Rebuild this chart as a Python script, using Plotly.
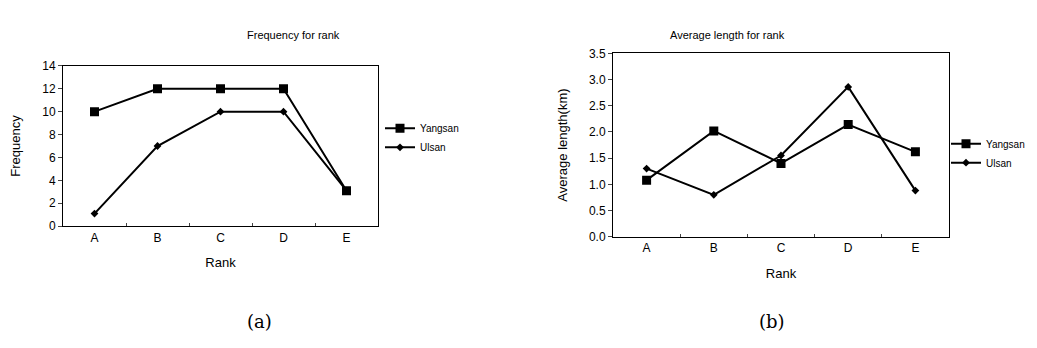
import plotly.graph_objects as go

ranks = ["A", "B", "C", "D", "E"]
freq_yangsan = [10, 12, 12, 12, 3.1]
freq_ulsan = [1.1, 7, 10, 10, 3.1]
len_yangsan = [1.08, 2.02, 1.40, 2.14, 1.62]
len_ulsan = [1.30, 0.80, 1.55, 2.86, 0.88]

W, H = 1037, 348
def px(x): return x / W
def py(y): return 1 - y / H

FONT = "Liberation Sans, Arial, sans-serif"
fig = go.Figure()

def add(x, y, name, sym, size, xa, ya, leg, show=True):
    fig.add_trace(go.Scatter(
        x=x, y=y, name=name, mode="lines+markers",
        line=dict(color="black", width=2),
        marker=dict(symbol=sym, size=size, color="black"),
        xaxis=xa, yaxis=ya, legend=leg, showlegend=show))

add(ranks, freq_yangsan, "Yangsan", "square", 9, "x", "y", "legend")
add(ranks, freq_ulsan, "Ulsan", "diamond", 6, "x", "y", "legend")
add(ranks, len_yangsan, "Yangsan", "square", 9, "x2", "y2", "legend2")
add(ranks, len_ulsan, "Ulsan", "diamond", 6, "x2", "y2", "legend2")

axis_common = dict(showline=True, linecolor="black", linewidth=1, mirror=True,
                   showgrid=False, zeroline=False,
                   tickfont=dict(family=FONT, size=12, color="black"))

fig.update_layout(
    width=W, height=H, margin=dict(l=0, r=0, t=0, b=0),
    paper_bgcolor="white", plot_bgcolor="white",
    font=dict(family=FONT, color="black"),
    xaxis=dict(domain=[px(55), px(370)], anchor="y", type="category",
               range=[-0.5, 4.5], ticks="inside", ticklen=3, tickson="boundaries",
               title=dict(text="Rank", font=dict(size=13), standoff=14), **axis_common),
    yaxis=dict(domain=[py(220), py(53)], anchor="x", range=[0, 14], dtick=2,
               ticks="outside", ticklen=4,
               title=dict(text="Frequency", font=dict(size=13), standoff=20), **axis_common),
    xaxis2=dict(domain=[px(605), px(941)], anchor="y2", type="category",
                range=[-0.5, 4.5], ticks="inside", ticklen=3, tickson="boundaries",
                title=dict(text="Rank", font=dict(size=13), standoff=14), **axis_common),
    yaxis2=dict(domain=[py(231), py(40)], anchor="x2", range=[0, 3.5], dtick=0.5,
                tickformat=".1f", ticks="outside", ticklen=4,
                title=dict(text="Average length(km)", font=dict(size=13), standoff=18), **axis_common),
    legend=dict(x=px(372), y=py(103), xanchor="left", yanchor="top",
                font=dict(size=10), itemwidth=30, tracegroupgap=0,
                bgcolor="rgba(0,0,0,0)"),
    legend2=dict(x=px(938), y=py(119), xanchor="left", yanchor="top",
                 font=dict(size=10), itemwidth=30, tracegroupgap=0,
                 bgcolor="rgba(0,0,0,0)"),
    annotations=[
        dict(text="Frequency for rank", x=px(237), y=py(13), xref="paper", yref="paper",
             showarrow=False, font=dict(size=11)),
        dict(text="Average length for rank", x=px(779), y=py(13), xref="paper", yref="paper",
             showarrow=False, font=dict(size=11)),
        dict(text="(a)", x=px(237), y=py(332), xref="paper", yref="paper",
             showarrow=False, font=dict(size=18, family="DejaVu Serif, serif")),
        dict(text="(b)", x=px(779), y=py(332), xref="paper", yref="paper",
             showarrow=False, font=dict(size=18, family="DejaVu Serif, serif")),
    ],
)

fig.write_html("out.html")
